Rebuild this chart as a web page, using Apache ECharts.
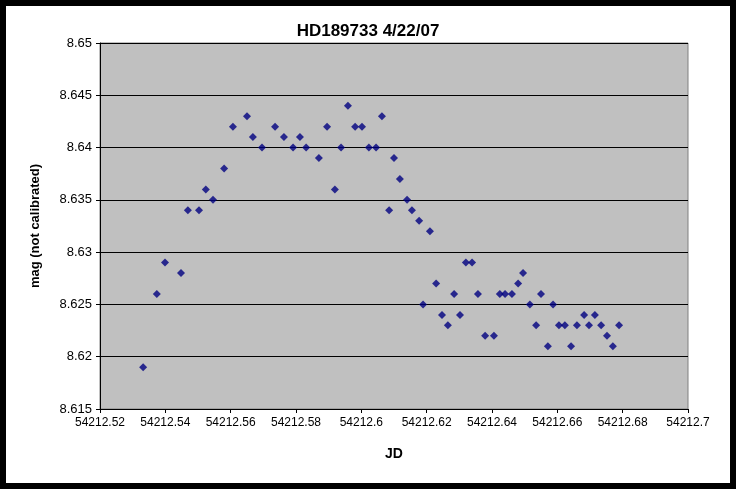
<!DOCTYPE html>
<html lang="en">
<head>
  <meta charset="UTF-8">
  <title>HD189733</title>
  <style>
    html, body { width: 100%; height: 100%; margin: 0; padding: 0; background: #000; }
    #eChart { position: absolute; left: 6px; top: 6px; right: 6px; bottom: 6px; background: #fff; }
  </style>
</head>
<body>
  <div id="eChart"></div>
  <script src="https://cdn.jsdelivr.net/npm/echarts@6/dist/echarts.min.js"></script>
  <script>
    // JD offsets from 54212 and magnitudes
    var jd = [0.5332, 0.5374, 0.5399, 0.5448, 0.5469, 0.5503, 0.5524, 0.5546, 0.5580, 0.5607,
      0.5650, 0.5668, 0.5696, 0.5736, 0.5763, 0.5791, 0.5812, 0.5831, 0.5870, 0.5895,
      0.5919, 0.5938, 0.5959, 0.5981, 0.6002, 0.6023, 0.6045, 0.6063, 0.6085, 0.6100,
      0.6118, 0.6140, 0.6155, 0.6177, 0.6189, 0.6210, 0.6229, 0.6247, 0.6265, 0.6284,
      0.6302, 0.6320, 0.6339, 0.6357, 0.6379, 0.6406, 0.6424, 0.6440, 0.6461, 0.6480,
      0.6495, 0.6516, 0.6535, 0.6550, 0.6571, 0.6587, 0.6605, 0.6623, 0.6642, 0.6660,
      0.6682, 0.6697, 0.6715, 0.6734, 0.6752, 0.6770, 0.6789];
    var mag = [8.619, 8.626, 8.629, 8.628, 8.634, 8.634, 8.636, 8.635, 8.638, 8.642,
      8.643, 8.641, 8.640, 8.642, 8.641, 8.640, 8.641, 8.640, 8.639, 8.642,
      8.636, 8.640, 8.644, 8.642, 8.642, 8.640, 8.640, 8.643, 8.634, 8.639,
      8.637, 8.635, 8.634, 8.633, 8.625, 8.632, 8.627, 8.624, 8.623, 8.626,
      8.624, 8.629, 8.629, 8.626, 8.622, 8.622, 8.626, 8.626, 8.626, 8.627,
      8.628, 8.625, 8.623, 8.626, 8.621, 8.625, 8.623, 8.623, 8.621, 8.623,
      8.624, 8.623, 8.624, 8.623, 8.622, 8.621, 8.623];
    var jdBase = 54212;

    var chart = echarts.init(document.getElementById('eChart'));
    var font = 'Liberation Sans';
    chart.setOption({
      animation: false,
      title: {
        text: 'HD189733 4/22/07', left: 'center', top: 12,
        textStyle: { fontFamily: font, fontSize: 17, fontWeight: 'bold', color: '#000' }
      },
      grid: { left: 94, right: 42, top: 37, bottom: 74, backgroundColor: '#c0c0c0', show: true, borderColor: '#808080', borderWidth: 1 },
      xAxis: {
        type: 'value', min: 0.52, max: 0.7, interval: 0.02,
        name: 'JD', nameLocation: 'middle', nameGap: 38,
        nameTextStyle: { fontFamily: font, fontSize: 14, fontWeight: 'bold', color: '#000' },
        axisLine: { lineStyle: { color: '#000' } },
        axisTick: { show: true, inside: false, length: 4, lineStyle: { color: '#000' } },
        splitLine: { show: false },
        axisLabel: { fontFamily: font, fontSize: 12, color: '#000',
          formatter: function (v) { return String(+(jdBase + v).toFixed(2)); } }
      },
      yAxis: {
        type: 'value', min: 8.615, max: 8.65, interval: 0.005,
        name: 'mag (not calibrated)', nameLocation: 'middle', nameGap: 58,
        nameTextStyle: { fontFamily: font, fontSize: 13, fontWeight: 'bold', color: '#000' },
        axisLine: { show: true, lineStyle: { color: '#000' } },
        axisTick: { show: true, length: 4, lineStyle: { color: '#000' } },
        splitLine: { lineStyle: { color: '#000', width: 1 } },
        axisLabel: { fontFamily: font, fontSize: 13, color: '#000',
          formatter: function (v) { return String(+v.toFixed(3)); } }
      },
      series: [{
        type: 'scatter', symbol: 'diamond', symbolSize: 8,
        itemStyle: { color: '#000080' },
        data: jd.map(function (x, i) { return [x, mag[i]]; })
      }]
    });
  </script>
</body>
</html>
